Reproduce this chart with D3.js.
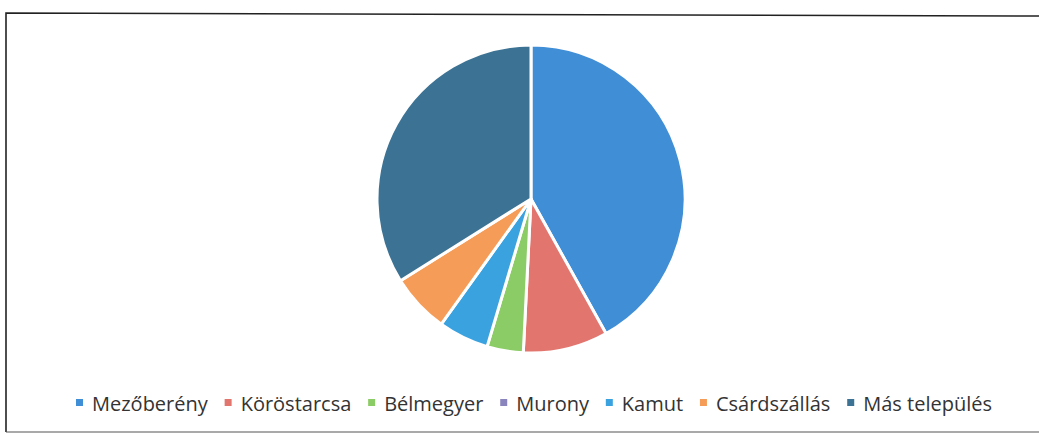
<!DOCTYPE html>
<html><head><meta charset="utf-8">
<script src="https://cdn.jsdelivr.net/npm/d3@7"></script>
<style>html,body{margin:0;padding:0;background:#fff;}</style>
</head><body>
<svg id="c" width="1039" height="434"></svg>
<script>
const categories = ["Mezőberény","Köröstarcsa","Bélmegyer","Murony","Kamut","Csárdszállás","Más település"];
const values = [41.9, 8.9, 3.8, 0, 5.3, 6.2, 33.9];
const colors = ["#3f8ed6","#e2766f","#8ccc66","#8a86bd","#3ba2e0","#f59d58","#3c7293"];

const svg = d3.select("#c");
// frame
svg.append("path").attr("d","M6,432 L6,13 L1039,16").attr("fill","none").attr("stroke","#222").attr("stroke-width",1.6);
svg.append("line").attr("x1",6).attr("x2",1039).attr("y1",432).attr("y2",432).attr("stroke","#555").attr("stroke-width",1.2);

const cx = 531, cy = 199, r = 154;
const pie = d3.pie().sort(null).value(d => d.v);
const arcs = pie(categories.map((c,i)=>({c, v: values[i], col: colors[i]})));
const arc = d3.arc().innerRadius(0).outerRadius(r);
const g = svg.append("g").attr("transform",`translate(${cx},${cy})`);
g.selectAll("path").data(arcs.filter(a=>a.data.v>0)).join("path")
  .attr("d", arc).attr("fill", d=>d.data.col)
  .attr("stroke","#fff").attr("stroke-width",3).attr("stroke-linejoin","round");

// legend
const fs = 20;
const lg = svg.append("g");
const items = lg.selectAll("g").data(categories).join("g");
items.append("rect").attr("width",7).attr("height",7).attr("y",-12).attr("fill",(d,i)=>colors[i]);
items.append("text").text(d=>d).attr("x",16).attr("y",0)
  .attr("font-family","'Open Sans', 'Liberation Sans', sans-serif").attr("font-size",fs).attr("fill","#333");
const widths = [];
items.each(function(){ widths.push(16 + this.querySelector("text").getComputedTextLength()); });
const left = 76, right = 992;
const gap = (right - left - d3.sum(widths)) / (widths.length - 1);
let x = left;
items.attr("transform",(d,i)=>{ const t = `translate(${x},${411})`; x += widths[i] + gap; return t; });
</script>
</body></html>
